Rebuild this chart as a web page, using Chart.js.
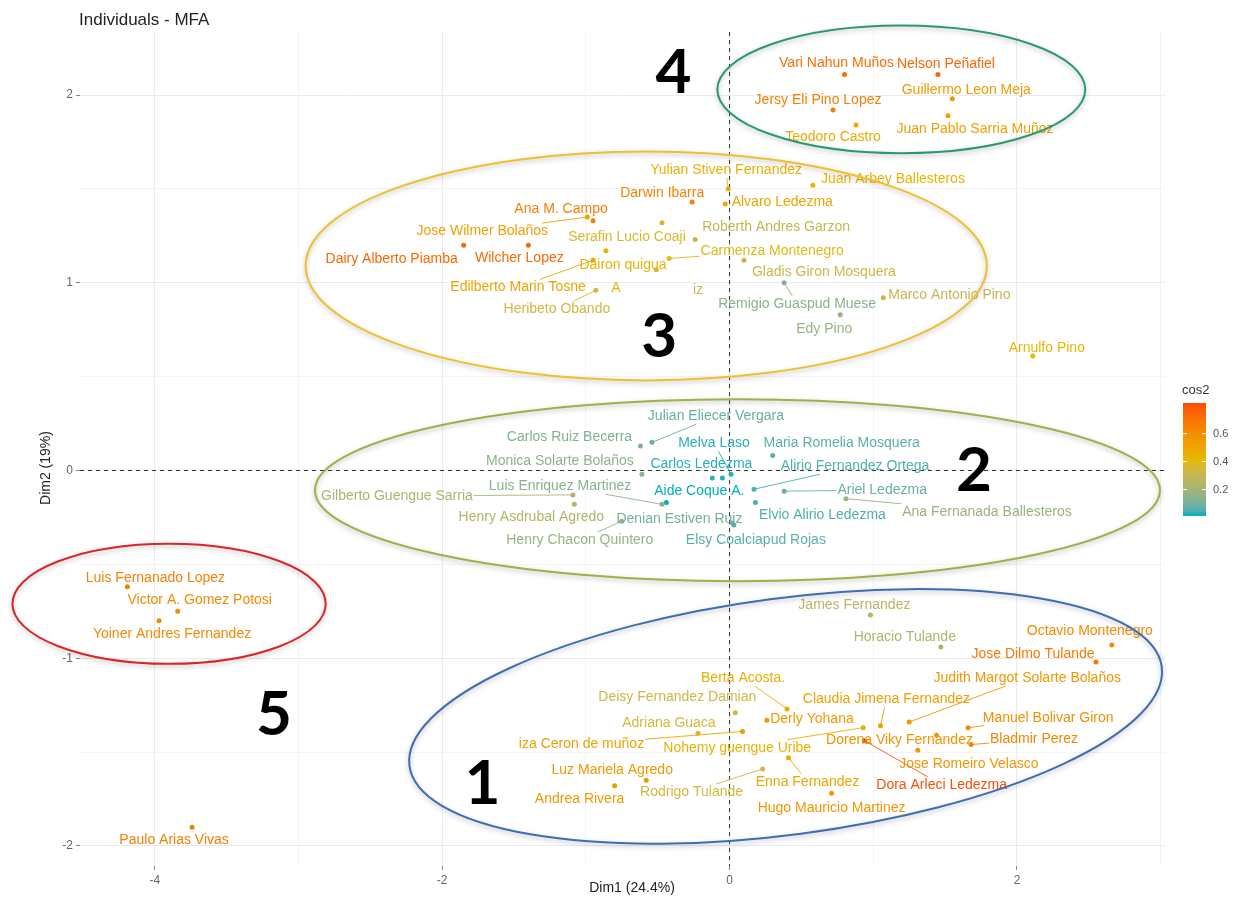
<!DOCTYPE html>
<html>
<head>
<meta charset="utf-8">
<title>Individuals - MFA</title>
<script src="https://cdn.jsdelivr.net/npm/chart.js@4.4.1/dist/chart.umd.min.js"></script>
<style>
  html, body { margin: 0; padding: 0; background: #fff; }
  #wrap { width: 1233px; height: 903px; }
</style>
</head>
<body>
<div id="wrap"><canvas id="mfaChart" width="1233" height="903"></canvas></div>
<script>
// individuals on the first two MFA dimensions
const names = [
  'Vari Nahun Muños', 'Nelson Peñafiel', 'Guillermo Leon Meja', 'Jersy Eli Pino Lopez', 'Juan Pablo Sarria Muñoz', 'Teodoro Castro',
  'Yulian Stiven Fernandez', 'Darwin Ibarra', 'Alvaro Ledezma', 'Juan Arbey Ballesteros', 'Roberth Andres Garzon', 'Serafin Lucio Coaji',
  'Carmenza Montenegro', 'Gladis Giron Mosquera', 'Remigio Guaspud Muese', 'Marco Antonio Pino', 'Edy Pino', 'Arnulfo Pino',
  'Jose Wilmer Bolaños', 'Ana M. Campo', 'Dairy Alberto Piamba', 'Wilcher Lopez', 'Dairon quigua', 'Edilberto Marin Tosne', 'Heribeto Obando', '',
  'Julian Eliecer Vergara', 'Carlos Ruiz Becerra', 'Monica Solarte Bolaños', 'Melva Laso', 'Carlos Ledezma', '', 'Aide Coque A.', 'Luis Enriquez Martinez',
  'Gilberto Guengue Sarria', 'Henry Asdrubal Agredo', 'Henry Chacon Quintero', 'Denian Estiven Ruiz', 'Elsy Coalciapud Rojas', 'Maria Romelia Mosquera',
  'Alirio Fernandez Ortega', 'Ariel Ledezma', 'Ana Fernanada Ballesteros', 'Elvio Alirio Ledezma',
  'Luis Fernanado Lopez', 'Victor A. Gomez Potosi', 'Yoiner Andres Fernandez', 'Paulo Arias Vivas',
  'James Fernandez', 'Horacio Tulande', 'Octavio Montenegro', 'Jose Dilmo Tulande', 'Judith Margot Solarte Bolaños', 'Claudia Jimena Fernandez',
  'Derly Yohana', 'Berta Acosta.', 'Deisy Fernandez Damian', 'Adriana Guaca', 'iza Ceron de muñoz', 'Nohemy guengue Uribe', 'Dorena Viky Fernandez',
  'Dora Arleci Ledezma', 'Jose Romeiro Velasco', 'Manuel Bolivar Giron', 'Bladmir Perez', 'Enna Fernandez', 'Rodrigo Tulande', 'Hugo Mauricio Martinez',
  'Luz Mariela Agredo', 'Andrea Rivera'
];
const dim1 = [
  0.80, 1.45, 1.55, 0.72, 1.52, 0.88,
  -0.01, -0.26, -0.03, 0.58, -0.24, -0.47,
  -0.42, 0.10, 0.38, 1.07, 0.77, 2.11,
  -0.99, -0.95, -1.85, -1.40, -0.86, -0.95, -0.93, -0.51,
  -0.54, -0.62, -0.61, 0.01, -0.05, -0.12, -0.44, -0.47,
  -1.09, -1.08, -0.75, 0.02, 0.03, 0.30,
  0.17, 0.38, 0.81, 0.18,
  -4.19, -3.84, -3.97, -3.74,
  0.98, 1.47, 2.66, 2.55, 1.25, 1.05,
  0.26, 0.40, 0.04, -0.22, 0.09, 0.93, 1.44,
  0.94, 1.31, 1.66, 1.68, 0.41, 0.23, 0.71,
  -0.58, -0.80
];
const dim2 = [
  2.11, 2.11, 1.98, 1.92, 1.89, 1.84,
  1.50, 1.43, 1.42, 1.52, 1.23, 1.32,
  1.13, 1.12, 1.00, 0.92, 0.83, 0.61,
  1.35, 1.33, 1.20, 1.20, 1.17, 1.12, 0.96, 1.07,
  0.15, 0.13, -0.02, -0.02, -0.04, -0.04, -0.17, -0.18,
  -0.13, -0.18, -0.27, -0.28, -0.29, 0.08,
  -0.10, -0.11, -0.15, -0.17,
  -0.62, -0.75, -0.80, -1.90,
  -0.77, -0.94, -0.93, -1.02, -1.34, -1.36,
  -1.33, -1.27, -1.29, -1.40, -1.39, -1.37, -1.41,
  -1.44, -1.49, -1.37, -1.46, -1.53, -1.59, -1.72,
  -1.65, -1.68
];
const cos2 = [
  0.72, 0.74, 0.55, 0.66, 0.52, 0.48,
  0.45, 0.64, 0.50, 0.44, 0.30, 0.38,
  0.40, 0.32, 0.14, 0.30, 0.18, 0.42,
  0.52, 0.66, 0.74, 0.74, 0.44, 0.50, 0.34, 0.36,
  0.08, 0.12, 0.15, 0.02, 0.02, 0.03, 0.01, 0.14,
  0.22, 0.24, 0.17, 0.10, 0.06, 0.06,
  0.05, 0.08, 0.18, 0.05,
  0.66, 0.62, 0.62, 0.66,
  0.26, 0.24, 0.62, 0.68, 0.56, 0.52,
  0.55, 0.46, 0.33, 0.35, 0.52, 0.45, 0.58,
  0.82, 0.57, 0.60, 0.64, 0.50, 0.34, 0.56,
  0.56, 0.55
];

// leftover label pieces in group 3
const fragText = ['A', 'iz'];
const fragX = [-0.79, -0.22];
const fragY = [0.97, 0.96];
const fragCos = [0.42, 0.30];

const tickX = [-4, -2, 0, 2];
const tickY = [-2, -1, 0, 1, 2];
const cosTicks = [0.2, 0.4, 0.6];

// group tags and the ellipses around each group
const groupTags = ['1', '2', '3', '4', '5'];
const tagAt = [[-1.72, -1.66], [1.70, 0.01], [-0.49, 0.72], [-0.39, 2.13], [-3.17, -1.29]];
const rings = [
  { cx: 0.39, cy: -1.31, rx: 2.64, ry: 0.63, rot: -7.5, color: '#3f6db3' },
  { cx: 0.055, cy: -0.105, rx: 2.94, ry: 0.485, rot: 0, color: '#a3ae48' },
  { cx: -0.58, cy: 1.09, rx: 2.37, ry: 0.61, rot: 0, color: '#f0c02c' },
  { cx: 1.195, cy: 2.03, rx: 1.28, ry: 0.34, rot: 0, color: '#2a9a6c' },
  { cx: -3.90, cy: -0.71, rx: 1.09, ry: 0.32, rot: 0, color: '#d8262b' }
];

// pixel nudges of each name from its point (repel layout)
const labelShift = [
  [-8, -11], [8, -10], [14, -9], [-15, -10], [27, 13], [-23, 12],
  [-2, -19], [-30, -9], [57, -2], [80, -6], [81, -12], [-35, 14],
  [103, -7], [80, 12], [13, 21], [66, -3], [-16, 14], [14, -8],
  [-105, 14], [-32, -12], [-72, 14], [-9, 13], [17, 14], [-75, 27], [-39, 19], [0, 0],
  [64, -26], [-71, -9], [-82, -13], [-17, -31], [-21, -14], [0, 0], [33, -11], [-102, -18],
  [-176, 1], [-43, 13], [-42, 19], [-53, -4], [22, 15], [69, -12],
  [101, -23], [98, -1], [141, 13], [67, 13],
  [28, -9], [22, -11], [13, 13], [-18, 13],
  [-16, -10], [-36, -10], [-22, -14], [-63, -8], [118, -44], [6, -27],
  [45, -1], [-44, -31], [-58, -15], [-29, -10], [-161, 13], [-126, 20], [-37, 5],
  [77, 44], [51, 14], [80, -10], [63, -5], [19, 24], [-71, 23], [0, 15],
  [-34, -10], [-35, 13]
];

const fontFamily = '"Liberation Sans", Arial, sans-serif';
const cosCols = ['#00AFBB', '#E7B800', '#FC4E07'];
const cosMin = Math.min(...cos2);
const cosMax = Math.max(...cos2);

// colour gradient is blended in Lab space, like the R gradient palettes
function toLab(hex) {
  const lin = c => { c /= 255; return c <= 0.04045 ? c / 12.92 : Math.pow((c + 0.055) / 1.055, 2.4); };
  const r = lin(parseInt(hex.slice(1, 3), 16));
  const g = lin(parseInt(hex.slice(3, 5), 16));
  const b = lin(parseInt(hex.slice(5, 7), 16));
  const X = (r * 0.4124 + g * 0.3576 + b * 0.1805) / 0.95047;
  const Y = r * 0.2126 + g * 0.7152 + b * 0.0722;
  const Z = (r * 0.0193 + g * 0.1192 + b * 0.9505) / 1.08883;
  const f = t => t > 0.008856 ? Math.cbrt(t) : 7.787 * t + 16 / 116;
  return [116 * f(Y) - 16, 500 * (f(X) - f(Y)), 200 * (f(Y) - f(Z))];
}

function fromLab(lab) {
  const fy = (lab[0] + 16) / 116;
  const fx = fy + lab[1] / 500;
  const fz = fy - lab[2] / 200;
  const inv = t => t * t * t > 0.008856 ? t * t * t : (t - 16 / 116) / 7.787;
  const X = inv(fx) * 0.95047, Y = inv(fy), Z = inv(fz) * 1.08883;
  const r = X * 3.2406 - Y * 1.5372 - Z * 0.4986;
  const g = -X * 0.9689 + Y * 1.8758 + Z * 0.0415;
  const b = X * 0.0557 - Y * 0.2040 + Z * 1.0570;
  const gam = c => {
    c = c <= 0.0031308 ? 12.92 * c : 1.055 * Math.pow(c, 1 / 2.4) - 0.055;
    return Math.round(Math.max(0, Math.min(1, c)) * 255);
  };
  return `rgb(${gam(r)}, ${gam(g)}, ${gam(b)})`;
}

const cosLab = cosCols.map(toLab);

function cosColor(v) {
  let t = (v - cosMin) / (cosMax - cosMin);
  t = Math.max(0, Math.min(1, t));
  let a = cosLab[0], b = cosLab[1], f = t * 2;
  if (t > 0.5) {
    a = cosLab[1];
    b = cosLab[2];
    f = (t - 0.5) * 2;
  }
  return fromLab(a.map((k, i) => k + (b[i] - k) * f));
}

function zeroLines(chart) {
  const { ctx, chartArea, scales } = chart;
  const x0 = scales.x.getPixelForValue(0);
  const y0 = scales.y.getPixelForValue(0);
  ctx.save();
  ctx.strokeStyle = '#333';
  ctx.lineWidth = 1;
  ctx.setLineDash([4, 4]);
  ctx.beginPath();
  ctx.moveTo(x0, chartArea.top);
  ctx.lineTo(x0, chartArea.bottom);
  ctx.moveTo(chartArea.left, y0);
  ctx.lineTo(chartArea.right, y0);
  ctx.stroke();
  ctx.restore();
}

function drawNames(chart) {
  const { ctx, scales } = chart;
  ctx.save();
  ctx.font = '14px ' + fontFamily;
  ctx.textAlign = 'center';
  ctx.textBaseline = 'middle';
  for (let i = 0; i < names.length; i++) {
    if (!names[i]) continue;
    const px = scales.x.getPixelForValue(dim1[i]);
    const py = scales.y.getPixelForValue(dim2[i]);
    const lx = px + labelShift[i][0];
    const ly = py + labelShift[i][1];
    const hw = ctx.measureText(names[i]).width / 2 + 1;
    const hh = 8;
    const col = cosColor(cos2[i]);
    // a segment only when the label box sits clear of its point
    const nx = Math.max(lx - hw, Math.min(px, lx + hw));
    const ny = Math.max(ly - hh, Math.min(py, ly + hh));
    if (Math.hypot(nx - px, ny - py) > 10) {
      const dx = lx - px, dy = ly - py;
      const s = Math.min(Math.abs(dx) > 0 ? hw / Math.abs(dx) : Infinity, Math.abs(dy) > 0 ? hh / Math.abs(dy) : Infinity);
      ctx.strokeStyle = col;
      ctx.lineWidth = 0.9;
      ctx.beginPath();
      ctx.moveTo(px, py);
      ctx.lineTo(lx - dx * s, ly - dy * s);
      ctx.stroke();
    }
    ctx.fillStyle = col;
    ctx.fillText(names[i], lx, ly);
  }
  for (let i = 0; i < fragText.length; i++) {
    ctx.fillStyle = cosColor(fragCos[i]);
    ctx.fillText(fragText[i], scales.x.getPixelForValue(fragX[i]), scales.y.getPixelForValue(fragY[i]));
  }
  ctx.restore();
}

function drawRings(chart) {
  const { ctx, scales } = chart;
  const ux = scales.x.getPixelForValue(1) - scales.x.getPixelForValue(0);
  const uy = scales.y.getPixelForValue(0) - scales.y.getPixelForValue(1);
  ctx.save();
  ctx.lineWidth = 2;
  ctx.shadowColor = 'rgba(0, 0, 0, 0.28)';
  ctx.shadowBlur = 5;
  ctx.shadowOffsetY = 2;
  rings.forEach(r => {
    ctx.strokeStyle = r.color;
    ctx.beginPath();
    ctx.ellipse(scales.x.getPixelForValue(r.cx), scales.y.getPixelForValue(r.cy),
      r.rx * ux, r.ry * uy, r.rot * Math.PI / 180, 0, Math.PI * 2);
    ctx.stroke();
  });
  ctx.restore();

  ctx.save();
  ctx.fillStyle = '#000';
  ctx.font = 'bold 62px Lato, "Open Sans", sans-serif';
  ctx.textAlign = 'center';
  ctx.textBaseline = 'alphabetic';
  groupTags.forEach((g, i) => {
    ctx.fillText(g, scales.x.getPixelForValue(tagAt[i][0]), scales.y.getPixelForValue(tagAt[i][1]) + 22);
  });
  ctx.restore();
}

function drawTitleAndKey(chart) {
  const { ctx } = chart;
  ctx.save();
  ctx.fillStyle = '#222';
  ctx.font = '17px ' + fontFamily;
  ctx.textAlign = 'left';
  ctx.textBaseline = 'alphabetic';
  ctx.fillText('Individuals - MFA', 79, 25);

  // axis titles
  ctx.font = '14px ' + fontFamily;
  ctx.textAlign = 'center';
  ctx.textBaseline = 'middle';
  ctx.fillText('Dim1 (24.4%)', 632, 888);
  ctx.save();
  ctx.translate(46, 468);
  ctx.rotate(-Math.PI / 2);
  ctx.fillText('Dim2 (19%)', 0, 0);
  ctx.restore();

  // cos2 colour bar
  const left = 1183, w = 23, top = 403, bottom = 516;
  ctx.textAlign = 'left';
  ctx.textBaseline = 'alphabetic';
  ctx.font = '13px ' + fontFamily;
  ctx.fillStyle = '#333';
  ctx.fillText('cos2', 1182, 394);
  const grad = ctx.createLinearGradient(0, bottom, 0, top);
  for (let k = 0; k <= 20; k++) {
    grad.addColorStop(k / 20, cosColor(cosMin + (cosMax - cosMin) * k / 20));
  }
  ctx.fillStyle = grad;
  ctx.fillRect(left, top, w, bottom - top);
  ctx.font = '11px ' + fontFamily;
  ctx.textBaseline = 'middle';
  cosTicks.forEach(v => {
    const y = bottom - (v - cosMin) / (cosMax - cosMin) * (bottom - top);
    ctx.strokeStyle = '#fff';
    ctx.lineWidth = 1;
    ctx.beginPath();
    ctx.moveTo(left, y);
    ctx.lineTo(left + 4, y);
    ctx.moveTo(left + w - 4, y);
    ctx.lineTo(left + w, y);
    ctx.stroke();
    ctx.fillStyle = '#555';
    ctx.fillText(v.toFixed(1), left + w + 7, y);
  });
  ctx.restore();
}

const mfaPlugin = {
  id: 'mfaExtras',
  beforeDatasetsDraw: zeroLines,
  afterDatasetsDraw: drawNames,
  afterDraw(chart) {
    drawRings(chart);
    drawTitleAndKey(chart);
  }
};

const points = names.map((n, i) => ({ x: dim1[i], y: dim2[i] }));

const config = {
  type: 'scatter',
  data: {
    datasets: [{
      label: 'Individuals',
      data: points,
      backgroundColor: cos2.map(cosColor),
      borderWidth: 0,
      pointRadius: 2.5
    }]
  },
  options: {
    responsive: false,
    devicePixelRatio: 1,
    animation: false,
    layout: { padding: { left: 38, right: 68, top: 32, bottom: 4 } },
    plugins: { legend: { display: false }, tooltip: { enabled: false } },
    scales: {
      x: {
        type: 'linear',
        min: -4.52,
        max: 3.03,
        border: { display: false },
        grid: {
          color: c => tickX.includes(c.tick.value) ? '#ebebeb' : '#f4f4f4',
          tickColor: c => tickX.includes(c.tick.value) ? '#888' : 'rgba(0,0,0,0)',
          tickLength: 4
        },
        ticks: {
          stepSize: 1,
          includeBounds: false,
          autoSkip: false,
          maxRotation: 0,
          padding: 3,
          color: '#666',
          font: { size: 12, family: fontFamily },
          callback: v => tickX.includes(v) ? String(v) : ''
        },
        afterFit: s => { s.height = 33; }
      },
      y: {
        type: 'linear',
        min: -2.107,
        max: 2.336,
        border: { display: false },
        grid: {
          color: c => tickY.includes(c.tick.value) ? '#ebebeb' : '#f4f4f4',
          tickColor: c => tickY.includes(c.tick.value) ? '#888' : 'rgba(0,0,0,0)',
          tickLength: 4
        },
        ticks: {
          stepSize: 0.5,
          includeBounds: false,
          autoSkip: false,
          padding: 3,
          color: '#666',
          font: { size: 12, family: fontFamily },
          callback: v => tickY.includes(v) ? String(v) : ''
        },
        afterFit: s => { s.width = 42; }
      }
    }
  },
  plugins: [mfaPlugin]
};

let canvasChart = document.getElementById('mfaChart');
const mfaChart = new Chart(canvasChart, config);
</script>
</body>
</html>
